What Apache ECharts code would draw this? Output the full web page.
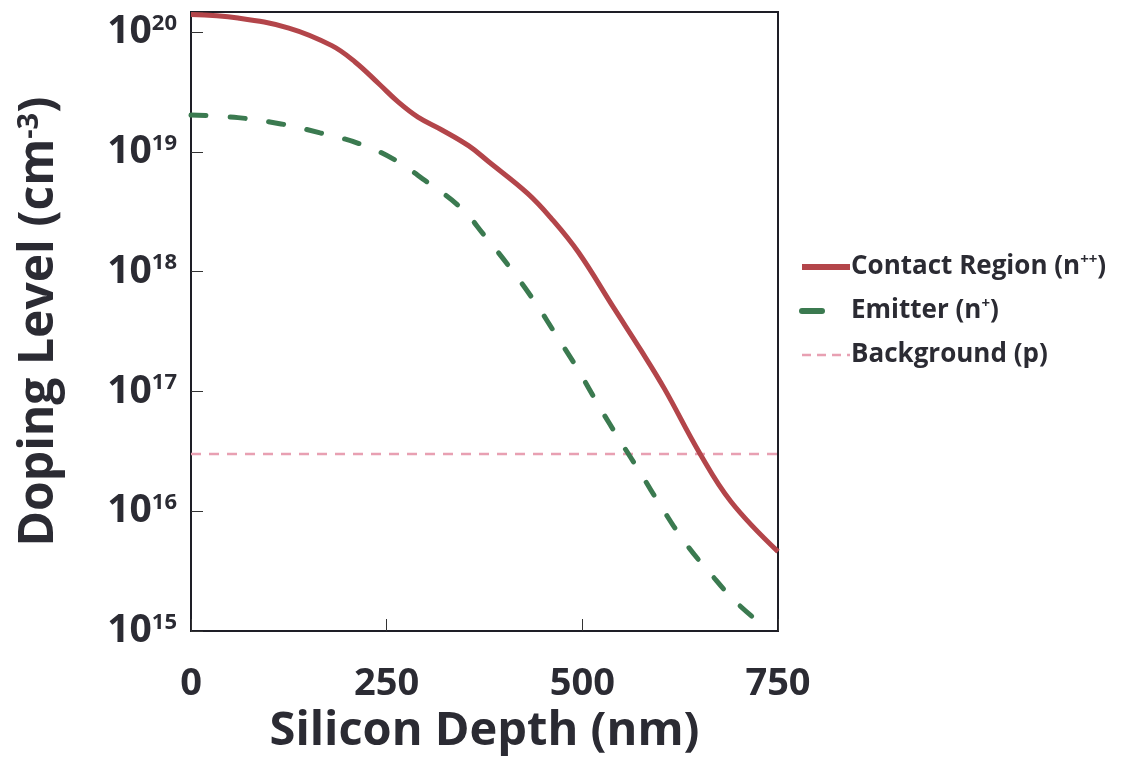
<!DOCTYPE html>
<html>
<head>
<meta charset="utf-8">
<script src="https://cdn.jsdelivr.net/npm/echarts@6/dist/echarts.min.js"></script>
<style>
  html, body { margin: 0; padding: 0; background: #fff; }
  #chart { width: 1124px; height: 757px; }
</style>
</head>
<body>
<div id="chart"></div>
<script>
/* depth (nm) / doping (cm^-3) */
var contactDepth = [0, 60, 125, 180, 210, 240, 265, 290, 320, 355, 380, 430, 460, 495, 540, 575, 605, 650, 690, 750];
var contactDoping = [1.4e20, 1.31e20, 1.08e20, 7.7e19, 5.6e19, 3.7e19, 2.6e19, 1.95e19, 1.53e19, 1.12e19, 8.3e18,
    4.5e18, 2.8e18, 1.45e18, 5.0e17, 2.2e17, 1.05e17, 3.05e16, 1.2e16, 4.6e15];

var emitterDepth = [0, 60, 115, 165, 215, 260, 300, 345, 375, 410, 440, 468, 495, 522, 548, 574, 602, 631, 663, 698, 740];
var emitterDoping = [2.03e19, 1.93e19, 1.71e19, 1.44e19, 1.17e19, 8.6e18, 5.7e18, 3.4e18, 2.0e18, 1.03e18, 5.5e17,
    2.85e17, 1.5e17, 7.4e16, 3.9e16, 2.1e16, 1.06e16, 5.5e15, 3.05e15, 1.7e15, 1.0e15];

var backgroundDepth = [0, 750];
var backgroundDoping = [3e16, 3e16];

var seriesNames = ['Contact Region (n++)', 'Emitter (n+)', 'Background (p)'];
var xTicks = [0, 250, 500, 750];
var yExponents = [15, 16, 17, 18, 19, 20];

var font = 'Open Sans';
var ink = '#2b2b33';
var red = '#b3454a', green = '#3b7a50', pink = '#e8a0b2';

function pairs(xs, ys) {
    var out = [];
    xs.forEach(function (x, i) { out.push([x, ys[i]]); });
    return out;
}

var myChart = echarts.init(document.getElementById('chart'));

var option = {
    animation: false,
    textStyle: { fontFamily: font },
    grid: {
        left: 191, top: 12, width: 587, height: 619,
        outerBoundsMode: 'none',
        containLabel: false,
        show: true, borderColor: '#1e1e26', borderWidth: 2
    },
    legend: {
        orient: 'vertical',
        left: 794, top: 247,
        itemWidth: 48, itemHeight: 12, itemGap: 14,
        itemStyle: { opacity: 0 },
        data: [
            { name: seriesNames[0], lineStyle: { width: 6 } },
            { name: seriesNames[1], lineStyle: { width: 6, type: [20, 40], cap: 'round' } },
            { name: seriesNames[2], lineStyle: { width: 2.5, type: [9, 6] } }
        ],
        formatter: function (name) {
            return name.replace(/\((n)(\+\+|\+)\)/, '($1{s|$2})');
        },
        textStyle: {
            color: ink, fontSize: 26, fontWeight: 'bold', fontFamily: font, lineHeight: 30, padding: [0, 0, 0, -4],
            rich: {
                s: { fontSize: 15, fontWeight: 'bold', color: ink, fontFamily: font, verticalAlign: 'top', padding: [0, 0, 10, 0] }
            }
        }
    },
    xAxis: {
        type: 'value',
        min: xTicks[0], max: xTicks[xTicks.length - 1],
        interval: xTicks[1] - xTicks[0],
        name: 'Silicon Depth (nm)',
        nameLocation: 'middle',
        nameGap: 75,
        nameTextStyle: { color: ink, fontSize: 47, fontWeight: 'bold', fontFamily: font },
        axisLine: { lineStyle: { color: '#1e1e26', width: 2 } },
        axisTick: { inside: true, length: 12, lineStyle: { color: '#333', width: 1 } },
        axisLabel: { margin: 34, color: ink, fontSize: 38, fontWeight: 'bold', fontFamily: font },
        splitLine: { show: false }
    },
    yAxis: {
        type: 'log',
        logBase: 10,
        min: Math.pow(10, yExponents[0]),
        max: 1.47e20,
        name: 'Doping Level (cm{s|-3})',
        nameLocation: 'middle',
        nameRotate: 90,
        nameGap: 128,
        nameTextStyle: {
            color: ink, fontSize: 48, fontWeight: 'bold', fontFamily: font,
            rich: {
                s: { fontSize: 29, fontWeight: 'bold', color: ink, fontFamily: font, verticalAlign: 'top', padding: [0, 0, 18, 0] }
            }
        },
        axisLine: { lineStyle: { color: '#1e1e26', width: 2 } },
        axisTick: { inside: true, length: 12, lineStyle: { color: '#333', width: 1 } },
        axisLabel: {
            margin: 14,
            formatter: function (v) {
                var e = Math.log(v) / Math.LN10;
                var r = Math.round(e);
                if (Math.abs(e - r) > 0.01 || yExponents.indexOf(r) < 0) return '';
                return '{b|10}{s|' + r + '}';
            },
            rich: {
                b: { color: ink, fontSize: 39, fontWeight: 'bold', fontFamily: font, verticalAlign: 'bottom' },
                s: { color: ink, fontSize: 22, fontWeight: 'bold', fontFamily: font, verticalAlign: 'bottom', padding: [0, 0, 17, 0] }
            }
        },
        splitLine: { show: false }
    },
    series: [
        {
            name: seriesNames[0],
            type: 'line',
            data: pairs(contactDepth, contactDoping),
            smooth: 0.4,
            symbol: 'none',
            lineStyle: { color: red, width: 5 },
            itemStyle: { color: red },
            z: 3
        },
        {
            name: seriesNames[1],
            type: 'line',
            data: pairs(emitterDepth, emitterDoping),
            smooth: 0.4,
            symbol: 'none',
            lineStyle: { color: green, width: 5, type: [15, 24], cap: 'round' },
            itemStyle: { color: green },
            z: 2
        },
        {
            name: seriesNames[2],
            type: 'line',
            data: pairs(backgroundDepth, backgroundDoping),
            symbol: 'none',
            lineStyle: { color: pink, width: 2.5, type: [10, 8] },
            itemStyle: { color: pink },
            z: 1
        }
    ]
};

myChart.setOption(option);
</script>
</body>
</html>
